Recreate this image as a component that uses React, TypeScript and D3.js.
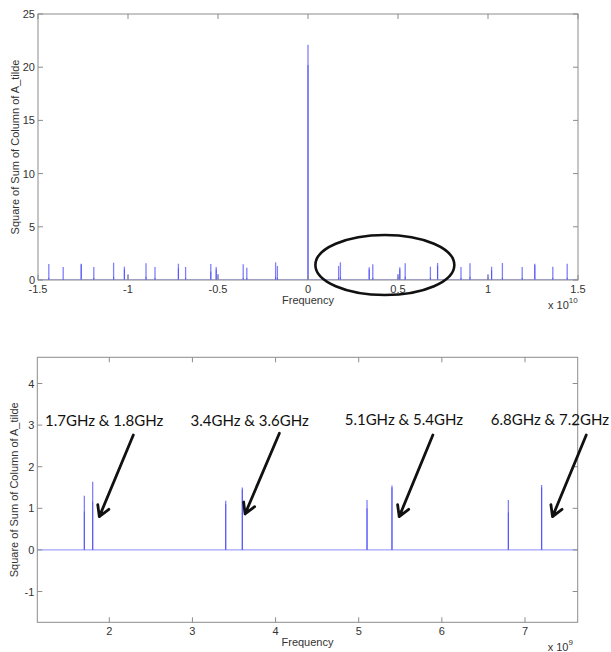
import React from "react";
import * as d3 from "d3";

// Full two-sided spectrum (frequency in units of 1e10 Hz)
const fullFreq = [
  -1.44, -1.36, -1.26, -1.19, -1.08, -1.02, -1.0, -0.9, -0.85, -0.72, -0.68, -0.54, -0.51, -0.5, -0.36, -0.34, -0.18, -0.17,
  0,
  0.17, 0.18, 0.34, 0.36, 0.5, 0.51, 0.54, 0.68, 0.72, 0.85, 0.9, 1.0, 1.02, 1.08, 1.19, 1.26, 1.36, 1.44,
];
const fullPeak = [
  1.5, 1.22, 1.53, 1.22, 1.63, 1.25, 0.53, 1.57, 1.22, 1.53, 1.22, 1.5, 1.22, 0.56, 1.47, 1.16, 1.66, 1.32,
  22.1,
  1.32, 1.66, 1.19, 1.47, 0.56, 1.19, 1.57, 1.25, 1.6, 1.22, 1.57, 0.53, 1.25, 1.6, 1.22, 1.53, 1.25, 1.53,
];
// Lower, denser part of each spike (overlapping samples)
const fullInner = [
  0.2, 0.1, 1.45, 0.2, 0.3, 1.0, 0, 0.3, 0.2, 1.1, 0.2, 0.8, 1.0, 0, 0.2, 0.2, 0.3, 0.2,
  20.2,
  0.2, 0.3, 1.0, 0.2, 0.3, 1.0, 0.3, 0.2, 1.3, 0.2, 0.3, 0.2, 0.9, 0.2, 0.2, 1.4, 0.2, 0.2,
];
const fullXTicks = [-1.5, -1, -0.5, 0, 0.5, 1, 1.5];
const fullYTicks = [0, 5, 10, 15, 20, 25];

// Zoomed positive band (frequency in units of 1e9 Hz)
const zoomFreq = [1.7, 1.8, 3.4, 3.6, 5.1, 5.4, 6.8, 7.2];
const zoomPeak = [1.3, 1.64, 1.18, 1.5, 1.2, 1.55, 1.2, 1.56];
const zoomInner = [0.92, 1.16, 1.1, 1.45, 1.0, 1.5, 0.9, 1.5];
const zoomXTicks = [2, 3, 4, 5, 6, 7];
const zoomYTicks = [-1, 0, 1, 2, 3, 4];

// Annotations on the zoomed view (data coordinates)
const annText = ["1.7GHz & 1.8GHz", "3.4GHz & 3.6GHz", "5.1GHz & 5.4GHz", "6.8GHz & 7.2GHz"];
const annTextX = [1.938, 3.688, 5.543, 7.3];
const annTextY = [2.98, 2.98, 3.0, 3.0];
const arrowFrom = [
  [2.289, 2.764],
  [4.046, 2.805],
  [5.892, 2.764],
  [7.737, 2.764],
];
const arrowTo = [
  [1.88, 0.8],
  [3.633, 0.865],
  [5.487, 0.8],
  [7.331, 0.8],
];

// Highlight ellipse on the full spectrum (center f, center v, radius f, radius v)
const ringCenter = [0.427, 1.41];
const ringRadius = [0.386, 2.82];

const AXIS = "#8c8c8c";
const TEXT = "#333";
const LINE_LIGHT = "#8080ff";
const LINE_DARK = "#4a4af2";
const BASE = "#a4a4ff";
const FONT = "'Liberation Sans', Arial, sans-serif";

type PanelProps = {
  x: d3.ScaleLinear<number, number>;
  y: d3.ScaleLinear<number, number>;
  xTicks: number[];
  yTicks: number[];
  exponent: string;
  freq: number[];
  peak: number[];
  inner: number[];
  baseColor: string;
  children?: React.ReactNode;
};

function Panel({ x, y, xTicks, yTicks, exponent, freq, peak, inner, baseColor, children }: PanelProps) {
  const [x0, x1] = x.range();
  const [y0, y1] = y.range(); // y0 bottom, y1 top
  const tl = 5;
  const fmt = (v: number) => String(v);
  const clipId = `clip-${Math.round(y1)}`;
  return (
    <g>
      <defs>
        <clipPath id={clipId}>
          <rect x={x0} y={y1} width={x1 - x0} height={y0 - y1} />
        </clipPath>
      </defs>
      <g clipPath={`url(#${clipId})`}>
        <line x1={x0} x2={x1} y1={y(0)} y2={y(0)} stroke={baseColor} strokeWidth={1.2} />
        {freq.map((f, i) => (
          <g key={i}>
            <line x1={x(f)} x2={x(f)} y1={y(0)} y2={y(peak[i])} stroke={LINE_LIGHT} strokeWidth={1.3} />
            {inner[i] > 0 && (
              <line x1={x(f)} x2={x(f)} y1={y(0)} y2={y(inner[i])} stroke={LINE_DARK} strokeWidth={1} strokeOpacity={0.8} />
            )}
          </g>
        ))}
      </g>
      <rect x={x0} y={y1} width={x1 - x0} height={y0 - y1} fill="none" stroke={AXIS} strokeWidth={1} />
      {xTicks.map((t) => (
        <g key={`xt${t}`}>
          <line x1={x(t)} x2={x(t)} y1={y0} y2={y0 - tl} stroke={AXIS} />
          <line x1={x(t)} x2={x(t)} y1={y1} y2={y1 + tl} stroke={AXIS} />
          <text x={x(t)} y={y0 + 13} textAnchor="middle" fontSize={11} fontFamily={FONT} fill={TEXT}>
            {fmt(t)}
          </text>
        </g>
      ))}
      {yTicks.map((t) => (
        <g key={`yt${t}`}>
          <line x1={x0} x2={x0 + tl} y1={y(t)} y2={y(t)} stroke={AXIS} />
          <line x1={x1} x2={x1 - tl} y1={y(t)} y2={y(t)} stroke={AXIS} />
          <text x={x0 - 3} y={y(t) + 4} textAnchor="end" fontSize={11} fontFamily={FONT} fill={TEXT}>
            {fmt(t)}
          </text>
        </g>
      ))}
      <text x={(x0 + x1) / 2} y={y0 + 24} textAnchor="middle" fontSize={11} fontFamily={FONT} fill={TEXT}>
        Frequency
      </text>
      <text
        transform={`translate(${x0 - 19},${(y0 + y1) / 2}) rotate(-90)`}
        textAnchor="middle"
        fontSize={11}
        fontFamily={FONT}
        fill={TEXT}
      >
        Square of Sum of Column of A_tilde
      </text>
      <text x={x1 - 30} y={y0 + 29} fontSize={11} fontFamily={FONT} fill={TEXT}>
        x 10
        <tspan dy={-6} fontSize={8}>
          {exponent}
        </tspan>
      </text>
      {children}
    </g>
  );
}

function arrowPath(sx: number, sy: number, tx: number, ty: number) {
  const ang = Math.atan2(ty - sy, tx - sx);
  const len = 12;
  const spread = Math.PI / 6;
  const a1x = tx - len * Math.cos(ang - spread);
  const a1y = ty - len * Math.sin(ang - spread);
  const a2x = tx - len * Math.cos(ang + spread);
  const a2y = ty - len * Math.sin(ang + spread);
  return `M${sx},${sy}L${tx},${ty}M${a1x},${a1y}L${tx},${ty}L${a2x},${a2y}`;
}

export default function App() {
  const xFull = d3.scaleLinear().domain([-1.5, 1.5]).range([38, 578]);
  const yFull = d3.scaleLinear().domain([0, 25]).range([280, 14]);

  const xZoom = d3.scaleLinear().domain([1.134, 7.634]).range([37.3, 577.7]);
  const yZoom = d3.scaleLinear().domain([-1.74, 4.63]).range([622.3, 357.3]);

  return (
    <svg
      width={611}
      height={652}
      style={{ position: "absolute", left: 0, top: 0, background: "#fff" }}
    >
      <rect width={611} height={652} fill="#fff" />
      <Panel
        x={xFull}
        y={yFull}
        xTicks={fullXTicks}
        yTicks={fullYTicks}
        exponent="10"
        freq={fullFreq}
        peak={fullPeak}
        inner={fullInner}
        baseColor="#6a6aff"
      >
        <ellipse
          cx={xFull(ringCenter[0])}
          cy={yFull(ringCenter[1])}
          rx={xFull(ringCenter[0] + ringRadius[0]) - xFull(ringCenter[0])}
          ry={yFull(ringCenter[1]) - yFull(ringCenter[1] + ringRadius[1])}
          fill="none"
          stroke="#111"
          strokeWidth={2.6}
        />
      </Panel>
      <Panel
        x={xZoom}
        y={yZoom}
        xTicks={zoomXTicks}
        yTicks={zoomYTicks}
        exponent="9"
        freq={zoomFreq}
        peak={zoomPeak}
        inner={zoomInner}
        baseColor={BASE}
      >
        {annText.map((t, i) => (
          <text
            key={t}
            x={xZoom(annTextX[i])}
            y={yZoom(annTextY[i])}
            textAnchor="middle"
            fontSize={15}
            fontFamily="Lato, 'Open Sans', sans-serif"
            fill="#111"
          >
            {t}
          </text>
        ))}
        {arrowFrom.map((s, i) => (
          <path
            key={i}
            d={arrowPath(xZoom(s[0]), yZoom(s[1]), xZoom(arrowTo[i][0]), yZoom(arrowTo[i][1]))}
            fill="none"
            stroke="#111"
            strokeWidth={2.8}
            strokeLinecap="round"
            strokeLinejoin="round"
          />
        ))}
      </Panel>
    </svg>
  );
}
